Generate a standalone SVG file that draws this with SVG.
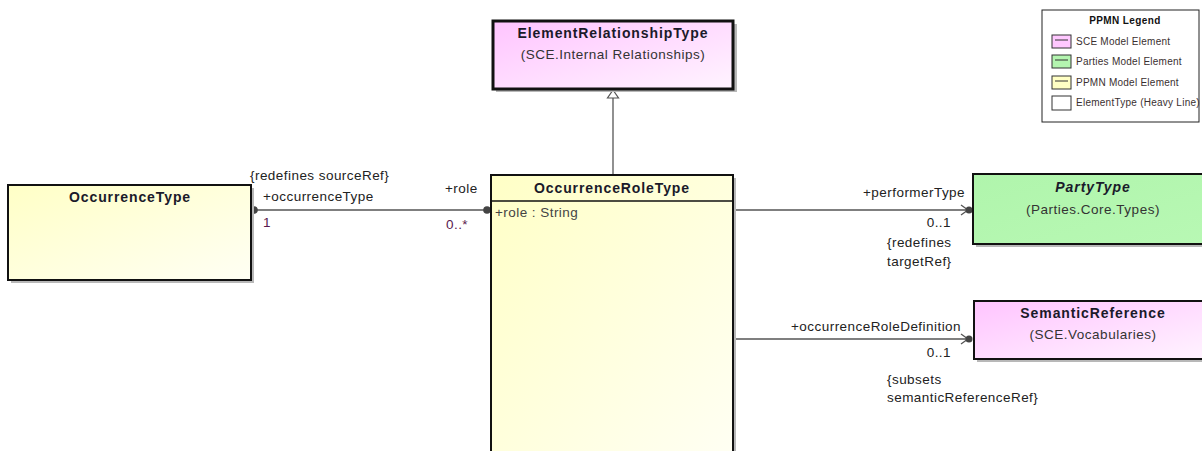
<svg xmlns="http://www.w3.org/2000/svg" width="1202" height="451" viewBox="0 0 1202 451">
<defs>
<linearGradient id="gPink" x1="0" y1="0" x2="1" y2="1"><stop offset="0" stop-color="#ffc4ff"/><stop offset="1" stop-color="#fff4ff"/></linearGradient>
<linearGradient id="gYel" x1="0" y1="0" x2="1" y2="1"><stop offset="0" stop-color="#ffffc6"/><stop offset="1" stop-color="#fffff4"/></linearGradient>
<linearGradient id="gGreen" x1="0" y1="0" x2="1" y2="1"><stop offset="0" stop-color="#b0f5ac"/><stop offset="1" stop-color="#b8f8b4"/></linearGradient>
</defs>
<style>
.box{stroke:#111;stroke-width:2}
.heavy{stroke:#111;stroke-width:3}
.shadow{fill:#b8b8b8}
.title{font-family:"Liberation Sans",Arial,sans-serif;font-size:14px;letter-spacing:0.9px;font-weight:bold;fill:#1a1a2a;text-anchor:middle}
.sub{font-family:"Liberation Sans",Arial,sans-serif;font-size:13.5px;letter-spacing:0.5px;fill:#333;text-anchor:middle}
.lbl{font-family:"Liberation Sans",Arial,sans-serif;font-size:13.5px;letter-spacing:0.45px;fill:#222}
.mult{font-family:"Liberation Sans",Arial,sans-serif;font-size:13.5px;letter-spacing:0.45px;fill:#5a1a4e}
.attr{font-family:"Liberation Sans",Arial,sans-serif;font-size:13.5px;letter-spacing:0.45px;fill:#444}
.line{stroke:#555;stroke-width:1.3;fill:none}
.leg{font-family:"Liberation Sans",Arial,sans-serif;font-size:10px;letter-spacing:0.25px;fill:#3a3030}
.legt{font-family:"Liberation Sans",Arial,sans-serif;font-size:10px;letter-spacing:0.4px;font-weight:bold;fill:#111;text-anchor:middle}
.sw{stroke:#333;stroke-width:1}
</style>

<g id="connectors">
<line class="line" x1="613" y1="97" x2="613" y2="176"/>
<polygon points="613,90 607.5,98 618.5,98" fill="#fff" stroke="#555" stroke-width="1.2"/>
<line class="line" x1="253" y1="210" x2="487" y2="210"/>
<circle cx="254" cy="210" r="3.8" fill="#444"/>
<circle cx="487" cy="210" r="3.8" fill="#444"/>
<line class="line" x1="734" y1="210" x2="970" y2="210"/>
<polyline class="line" points="961,205 968,210 961,215"/>
<circle cx="969" cy="210" r="3.5" fill="#444"/>
<line class="line" x1="734" y1="339" x2="970" y2="339"/>
<polyline class="line" points="961,334 968,339 961,344"/>
<circle cx="969" cy="339" r="3.5" fill="#444"/>
<text class="lbl" x="250" y="180">{redefines sourceRef}</text>
<text class="lbl" x="263" y="201">+occurrenceType</text>
<text class="mult" x="263" y="227">1</text>
<text class="lbl" x="445" y="193">+role</text>
<text class="mult" x="446" y="229">0..*</text>
<text class="lbl" x="965" y="197" text-anchor="end">+performerType</text>
<text class="lbl" x="951" y="227" text-anchor="end">0..1</text>
<text class="lbl" x="887" y="247">{redefines</text>
<text class="lbl" x="887" y="266">targetRef}</text>
<text class="lbl" x="961" y="331" text-anchor="end">+occurrenceRoleDefinition</text>
<text class="lbl" x="951" y="357" text-anchor="end">0..1</text>
<text class="lbl" x="887" y="384">{subsets</text>
<text class="lbl" x="887" y="402">semanticReferenceRef}</text>
</g>

<g id="ElementRelationshipType">
<rect class="shadow" x="496" y="24" width="241" height="68"/>
<rect class="heavy" x="493" y="21" width="240" height="68" fill="url(#gPink)"/>
<text class="title" x="613" y="38">ElementRelationshipType</text>
<text class="sub" x="613" y="59">(SCE.Internal Relationships)</text>
</g>

<g id="OccurrenceType">
<rect class="shadow" x="11" y="188" width="243" height="95"/>
<rect class="box" x="8" y="185" width="243" height="95" fill="url(#gYel)"/>
<text class="title" x="130" y="202">OccurrenceType</text>
</g>

<g id="OccurrenceRoleType">
<rect class="shadow" x="494" y="178" width="242" height="280"/>
<rect class="box" x="491" y="175" width="242" height="290" fill="url(#gYel)"/>
<line x1="491" y1="201" x2="733" y2="201" stroke="#111" stroke-width="1.5"/>
<text class="title" x="612" y="193">OccurrenceRoleType</text>
<text class="attr" x="495" y="217">+role : String</text>
</g>

<g id="PartyType">
<rect class="shadow" x="976" y="177" width="240" height="70"/>
<rect class="box" x="973" y="174" width="240" height="70" fill="url(#gGreen)"/>
<text class="title" x="1093" y="192" font-style="italic">PartyType</text>
<text class="sub" x="1093" y="214">(Parties.Core.Types)</text>
</g>

<g id="SemanticReference">
<rect class="shadow" x="977" y="304" width="240" height="58"/>
<rect class="box" x="974" y="301" width="240" height="58" fill="url(#gPink)"/>
<text class="title" x="1093" y="318">SemanticReference</text>
<text class="sub" x="1093" y="339">(SCE.Vocabularies)</text>
</g>

<g id="legend">
<rect x="1042" y="10" width="157" height="112" fill="#fff" stroke="#222" stroke-width="1"/>
<text class="legt" x="1125" y="24">PPMN Legend</text>
<rect class="sw" x="1052" y="35" width="19" height="13" fill="#ffc8ff"/>
<line x1="1055" y1="40" x2="1068" y2="40" stroke="#333"/>
<text class="leg" x="1076" y="45">SCE Model Element</text>
<rect class="sw" x="1052" y="55" width="19" height="13" fill="#b4f5b0"/>
<line x1="1055" y1="60" x2="1068" y2="60" stroke="#333"/>
<text class="leg" x="1076" y="65">Parties Model Element</text>
<rect class="sw" x="1052" y="76" width="19" height="13" fill="#ffffc4"/>
<line x1="1055" y1="81" x2="1068" y2="81" stroke="#333"/>
<text class="leg" x="1076" y="86">PPMN Model Element</text>
<rect class="sw" x="1052" y="96" width="19" height="14" fill="#fff" stroke-width="1.3"/>
<text class="leg" x="1076" y="106">ElementType (Heavy Line)</text>
</g>
</svg>
